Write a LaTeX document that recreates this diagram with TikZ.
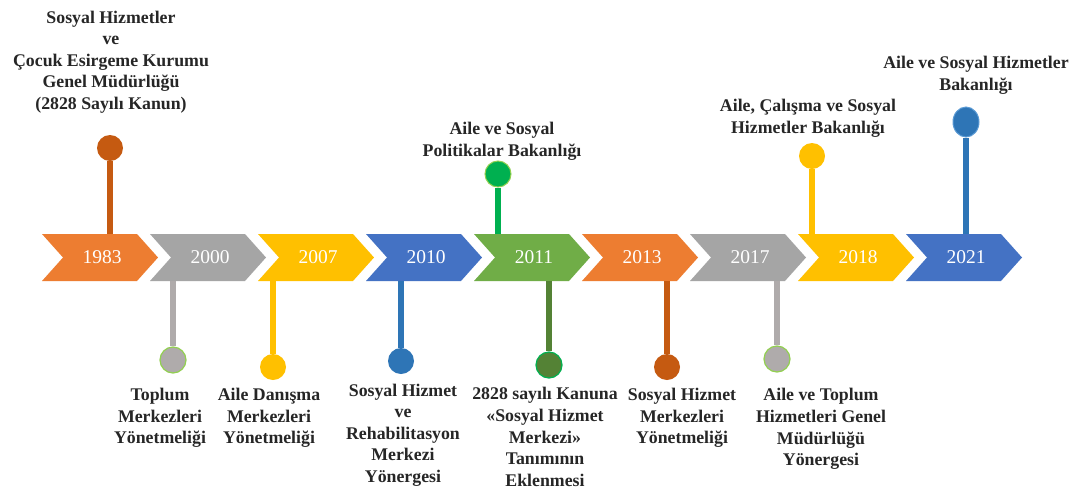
\documentclass[tikz,border=0pt]{standalone}
\usepackage{fontspec}
\setmainfont{Liberation Serif}
\usetikzlibrary{shapes.geometric}
\definecolor{corange}{HTML}{ED7D31}
\definecolor{cgray}{HTML}{A5A5A5}
\definecolor{cyellow}{HTML}{FFC000}
\definecolor{cblue}{HTML}{4472C4}
\definecolor{cgreen}{HTML}{70AD47}
\definecolor{dorange}{HTML}{C55A11}
\definecolor{lgray}{HTML}{AFABAB}
\definecolor{dblue}{HTML}{2E75B6}
\definecolor{lblue}{HTML}{5B9BD5}
\definecolor{bgreen}{HTML}{00B050}
\definecolor{dgreen}{HTML}{548235}
\definecolor{lgreen}{HTML}{92D050}
\definecolor{txt}{HTML}{262626}
\newcommand\chevron[3]{%
  \fill[#2] (#1,234) -- ++(95,0) -- ++(21,23.5) -- ++(-21,23.5) -- ++(-95,0) -- ++(21,-23.5) -- cycle;
  \node[yr] (y#3) at ({#1+60},257.5) {#3};}
\begin{document}
\begin{tikzpicture}[x=1pt,y=-1pt,
  lbl/.style={font=\bfseries\fontsize{17.8}{21.6}\selectfont, align=center, text=txt, inner sep=0pt},
  yr/.style={font=\fontsize{19.5}{20}\selectfont, text=white, inner sep=0pt},
  pin/.style={circle, minimum size=26pt, inner sep=0pt},
  stem/.style={line width=6pt},
]
\useasboundingbox[fill=white] (0,0) rectangle (1080,491);
\coordinate (ctop) at (0,234);
\coordinate (cbot) at (0,281);
% chevrons
\chevron{42}{corange}{1983}
\chevron{150}{cgray}{2000}
\chevron{258}{cyellow}{2007}
\chevron{366}{cblue}{2010}
\chevron{474}{cgreen}{2011}
\chevron{582}{corange}{2013}
\chevron{690}{cgray}{2017}
\chevron{798}{cyellow}{2018}
\chevron{906}{cblue}{2021}
% pins up
\node[pin, fill=dorange] (p1983) at (110,148) {};
\draw[stem, dorange] (p1983.south) -- (p1983.south |- ctop);
\node[pin, fill=bgreen, draw=lgreen, line width=1pt] (p2011u) at (498,174) {};
\draw[stem, bgreen] (p2011u.south) -- (p2011u.south |- ctop);
\node[pin, fill=cyellow] (p2018) at (812,156) {};
\draw[stem, cyellow] (p2018.south) -- (p2018.south |- ctop);
\node[ellipse, inner sep=0pt, minimum width=26pt, minimum height=30pt, fill=dblue, draw=lblue, line width=1pt] (p2021) at (966,122) {};
\draw[stem, dblue] (p2021.south) -- (p2021.south |- ctop);
% pins down
\node[pin, fill=lgray, draw=lgreen, line width=1.2pt] (p2000) at (173,360) {};
\draw[stem, lgray] (p2000.north |- cbot) -- (p2000.north);
\node[pin, fill=cyellow] (p2007) at (273,367) {};
\draw[stem, cyellow] (p2007.north |- cbot) -- (p2007.north);
\node[pin, fill=dblue] (p2010) at (401,361) {};
\draw[stem, dblue] (p2010.north |- cbot) -- (p2010.north);
\node[pin, fill=dgreen, draw=bgreen, line width=1.2pt] (p2011d) at (549,365) {};
\draw[stem, dgreen] (p2011d.north |- cbot) -- (p2011d.north);
\node[pin, fill=dorange] (p2013) at (667,367) {};
\draw[stem, dorange] (p2013.north |- cbot) -- (p2013.north);
\node[pin, fill=lgray, draw=lgreen, line width=1.2pt] (p2017) at (777,359) {};
\draw[stem, lgray] (p2017.north |- cbot) -- (p2017.north);
% labels top
\node[lbl] (t1983) at (111,62) {Sosyal Hizmetler\\ve\\Çocuk Esirgeme Kurumu\\Genel Müdürlüğü\\(2828 Sayılı Kanun)};
\node[lbl] (t2011u) at (502,141) {Aile ve Sosyal\\Politikalar Bakanlığı};
\node[lbl] (t2018) at (808,118) {Aile, Çalışma ve Sosyal\\Hizmetler Bakanlığı};
\node[lbl] (t2021) at (976,75) {Aile ve Sosyal Hizmetler\\Bakanlığı};
% labels bottom
\node[lbl] (t2000) at (160,418) {Toplum\\Merkezleri\\Yönetmeliği};
\node[lbl] (t2007) at (269,418) {Aile Danışma\\Merkezleri\\Yönetmeliği};
\node[lbl] (t2010) at (403,435) {Sosyal Hizmet\\ve\\Rehabilitasyon\\Merkezi\\Yönergesi};
\node[lbl] (t2011d) at (545,437) {2828 sayılı Kanuna\\«Sosyal Hizmet\\Merkezi»\\Tanımının\\Eklenmesi};
\node[lbl] (t2013) at (682,418) {Sosyal Hizmet\\Merkezleri\\Yönetmeliği};
\node[lbl] (t2017) at (821,429) {Aile ve Toplum\\Hizmetleri Genel\\Müdürlüğü\\Yönergesi};
\end{tikzpicture}
\end{document}
